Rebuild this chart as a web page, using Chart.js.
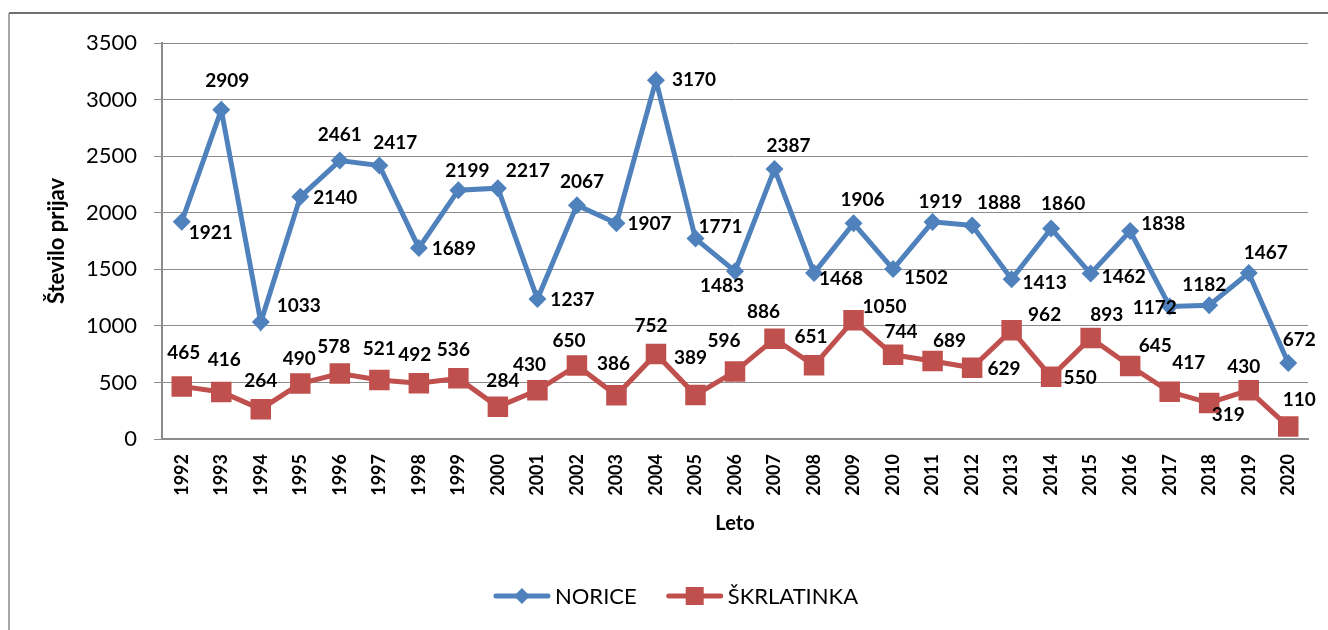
<!DOCTYPE html>
<html>
<head>
<meta charset="utf-8">
<script src="https://cdn.jsdelivr.net/npm/chart.js@4.4.0/dist/chart.umd.min.js"></script>
<style>
    body { margin: 0; background: #fff; }
</style>
</head>
<body>
<canvas id="prijave" width="1328" height="630"></canvas>
<script>
const years = ["1992", "1993", "1994", "1995", "1996", "1997", "1998", "1999", "2000", "2001",
    "2002", "2003", "2004", "2005", "2006", "2007", "2008", "2009", "2010", "2011",
    "2012", "2013", "2014", "2015", "2016", "2017", "2018", "2019", "2020"];
const norice = [1921, 2909, 1033, 2140, 2461, 2417, 1689, 2199, 2217, 1237,
    2067, 1907, 3170, 1771, 1483, 2387, 1468, 1906, 1502, 1919,
    1888, 1413, 1860, 1462, 1838, 1172, 1182, 1467, 672];
const skrlatinka = [465, 416, 264, 490, 578, 521, 492, 536, 284, 430,
    650, 386, 752, 389, 596, 886, 651, 1050, 744, 689,
    629, 962, 550, 893, 645, 417, 319, 430, 110];
const yTicks = [0, 500, 1000, 1500, 2000, 2500, 3000, 3500];

// where each value label sits relative to its point (like manually moved Excel labels)
const noriceLabelPos = [[29, 11], [6, -29], [38, -16], [35, 1], [0, -26], [16, -23], [35, 1], [9, -19], [30, -17], [35, 1],
    [5, -23], [33, 1], [38, 0], [25, -12], [-13, 15], [14, -23], [27, 6], [9, -23], [33, 9], [8, -20],
    [27, -23], [33, 4], [12, -25], [33, 3], [33, -7], [-15, 1], [-5, -20], [17, -20], [11, -23]];
const skrlatinkaLabelPos = [[2, -34], [3, -32], [0, -28], [-1, -25], [-6, -27], [0, -31], [-4, -28], [-5, -28], [5, -26], [-8, -25],
    [-8, -25], [-3, -31], [-5, -28], [-5, -37], [-11, -31], [-11, -27], [-3, -28], [31, -13], [8, -23], [17, -20],
    [32, 1], [33, -15], [29, 1], [16, -23], [25, -20], [19, -29], [19, 12], [-5, -23], [11, -27]];

const BLUE = "#4F81BD";
const RED = "#C0504D";
const FONT = "Lato, 'DejaVu Sans', sans-serif";

const frame = {
    id: "frame",
    beforeDraw(chart) {
        const c = chart.ctx;
        c.save();
        c.fillStyle = "#fff";
        c.fillRect(0, 0, chart.width, chart.height);
        c.lineWidth = 1.5;
        c.strokeStyle = "#404040";
        c.beginPath();
        c.moveTo(9, 13);
        c.lineTo(chart.width, 13);
        c.stroke();
        c.strokeStyle = "#8a8a8a";
        c.beginPath();
        c.moveTo(9, 13);
        c.lineTo(9, chart.height);
        c.stroke();
        c.restore();
    }
};

const valueLabels = {
    id: "valueLabels",
    afterDatasetsDraw(chart) {
        const c = chart.ctx;
        const offsets = [noriceLabelPos, skrlatinkaLabelPos];
        c.save();
        c.font = "bold 19px " + FONT;
        c.fillStyle = "#000";
        c.textAlign = "center";
        c.textBaseline = "middle";
        chart.data.datasets.forEach(function (ds, i) {
            chart.getDatasetMeta(i).data.forEach(function (pt, j) {
                const o = offsets[i][j];
                c.fillText(String(ds.data[j]), pt.x + o[0], pt.y + o[1]);
            });
        });
        c.restore();
    }
};

const bottomLegend = {
    id: "bottomLegend",
    afterDraw(chart) {
        const c = chart.ctx;
        const y = 596;
        const lineLen = 56, gap = 5, spacing = 30;
        c.save();
        c.font = "22px " + FONT;
        c.textBaseline = "middle";
        const items = chart.data.datasets.map(function (ds) {
            return { ds: ds, w: c.measureText(ds.label).width };
        });
        let total = 0;
        items.forEach(function (it, k) { total += lineLen + gap + it.w + (k ? spacing : 0); });
        let x = 676 - total / 2;
        items.forEach(function (it) {
            const col = it.ds.borderColor;
            c.strokeStyle = col;
            c.lineWidth = 5;
            c.lineCap = "round";
            c.beginPath();
            c.moveTo(x + 2, y);
            c.lineTo(x + lineLen - 2, y);
            c.stroke();
            const mx = x + lineLen / 2;
            c.fillStyle = col;
            c.beginPath();
            if (it.ds.pointStyle === "rectRot") {
                c.moveTo(mx, y - 8);
                c.lineTo(mx + 8, y);
                c.lineTo(mx, y + 8);
                c.lineTo(mx - 8, y);
                c.closePath();
            } else {
                c.rect(mx - 9, y - 9, 18, 18);
            }
            c.fill();
            c.fillStyle = "#000";
            c.fillText(it.ds.label, x + lineLen + gap, y + 1);
            x += lineLen + gap + it.w + spacing;
        });
        c.restore();
    }
};

const ctx = document.getElementById("prijave").getContext("2d");

new Chart(ctx, {
    type: "line",
    data: {
        labels: years,
        datasets: [
            {
                label: "NORICE",
                data: norice,
                borderColor: BLUE,
                backgroundColor: BLUE,
                borderWidth: 5,
                pointStyle: "rectRot",
                pointRadius: 9,
                pointBorderWidth: 0,
                tension: 0
            },
            {
                label: "ŠKRLATINKA",
                data: skrlatinka,
                borderColor: RED,
                backgroundColor: RED,
                borderWidth: 5,
                pointStyle: "rect",
                pointRadius: 14.5,
                pointBorderWidth: 0,
                tension: 0
            }
        ]
    },
    options: {
        responsive: false,
        animation: false,
        layout: {
            padding: { top: 43, right: 20, bottom: 85, left: 0 }
        },
        plugins: {
            legend: { display: false },
            tooltip: { enabled: false }
        },
        scales: {
            x: {
                offset: true,
                grid: { display: false, drawTicks: false },
                border: { display: true, color: "#8c8c8c", width: 2 },
                ticks: {
                    minRotation: 90,
                    maxRotation: 90,
                    padding: 15,
                    color: "#000",
                    font: { family: FONT, size: 18, weight: "bold" }
                },
                title: {
                    display: true,
                    text: "Leto",
                    color: "#000",
                    font: { family: FONT, size: 20, weight: "bold" },
                    padding: { top: 0, bottom: 9 }
                },
                afterFit(scale) { scale.height = 106; }
            },
            y: {
                min: 0,
                max: 3500,
                afterBuildTicks(scale) {
                    scale.ticks = yTicks.map(function (v) { return { value: v }; });
                },
                grid: { color: "#8c8c8c", lineWidth: 1, tickLength: 8 },
                border: { display: true, color: "#8c8c8c", width: 2 },
                ticks: {
                    padding: 17,
                    color: "#000",
                    font: { family: FONT, size: 22 },
                    callback: function (value) { return String(value); }
                },
                title: {
                    display: true,
                    text: "Število prijav",
                    color: "#000",
                    font: { family: FONT, size: 22, weight: "bold" },
                    padding: { top: 44, bottom: 0 }
                },
                afterFit(scale) { scale.width = 162; }
            }
        }
    },
    plugins: [frame, valueLabels, bottomLegend]
});
</script>
</body>
</html>
